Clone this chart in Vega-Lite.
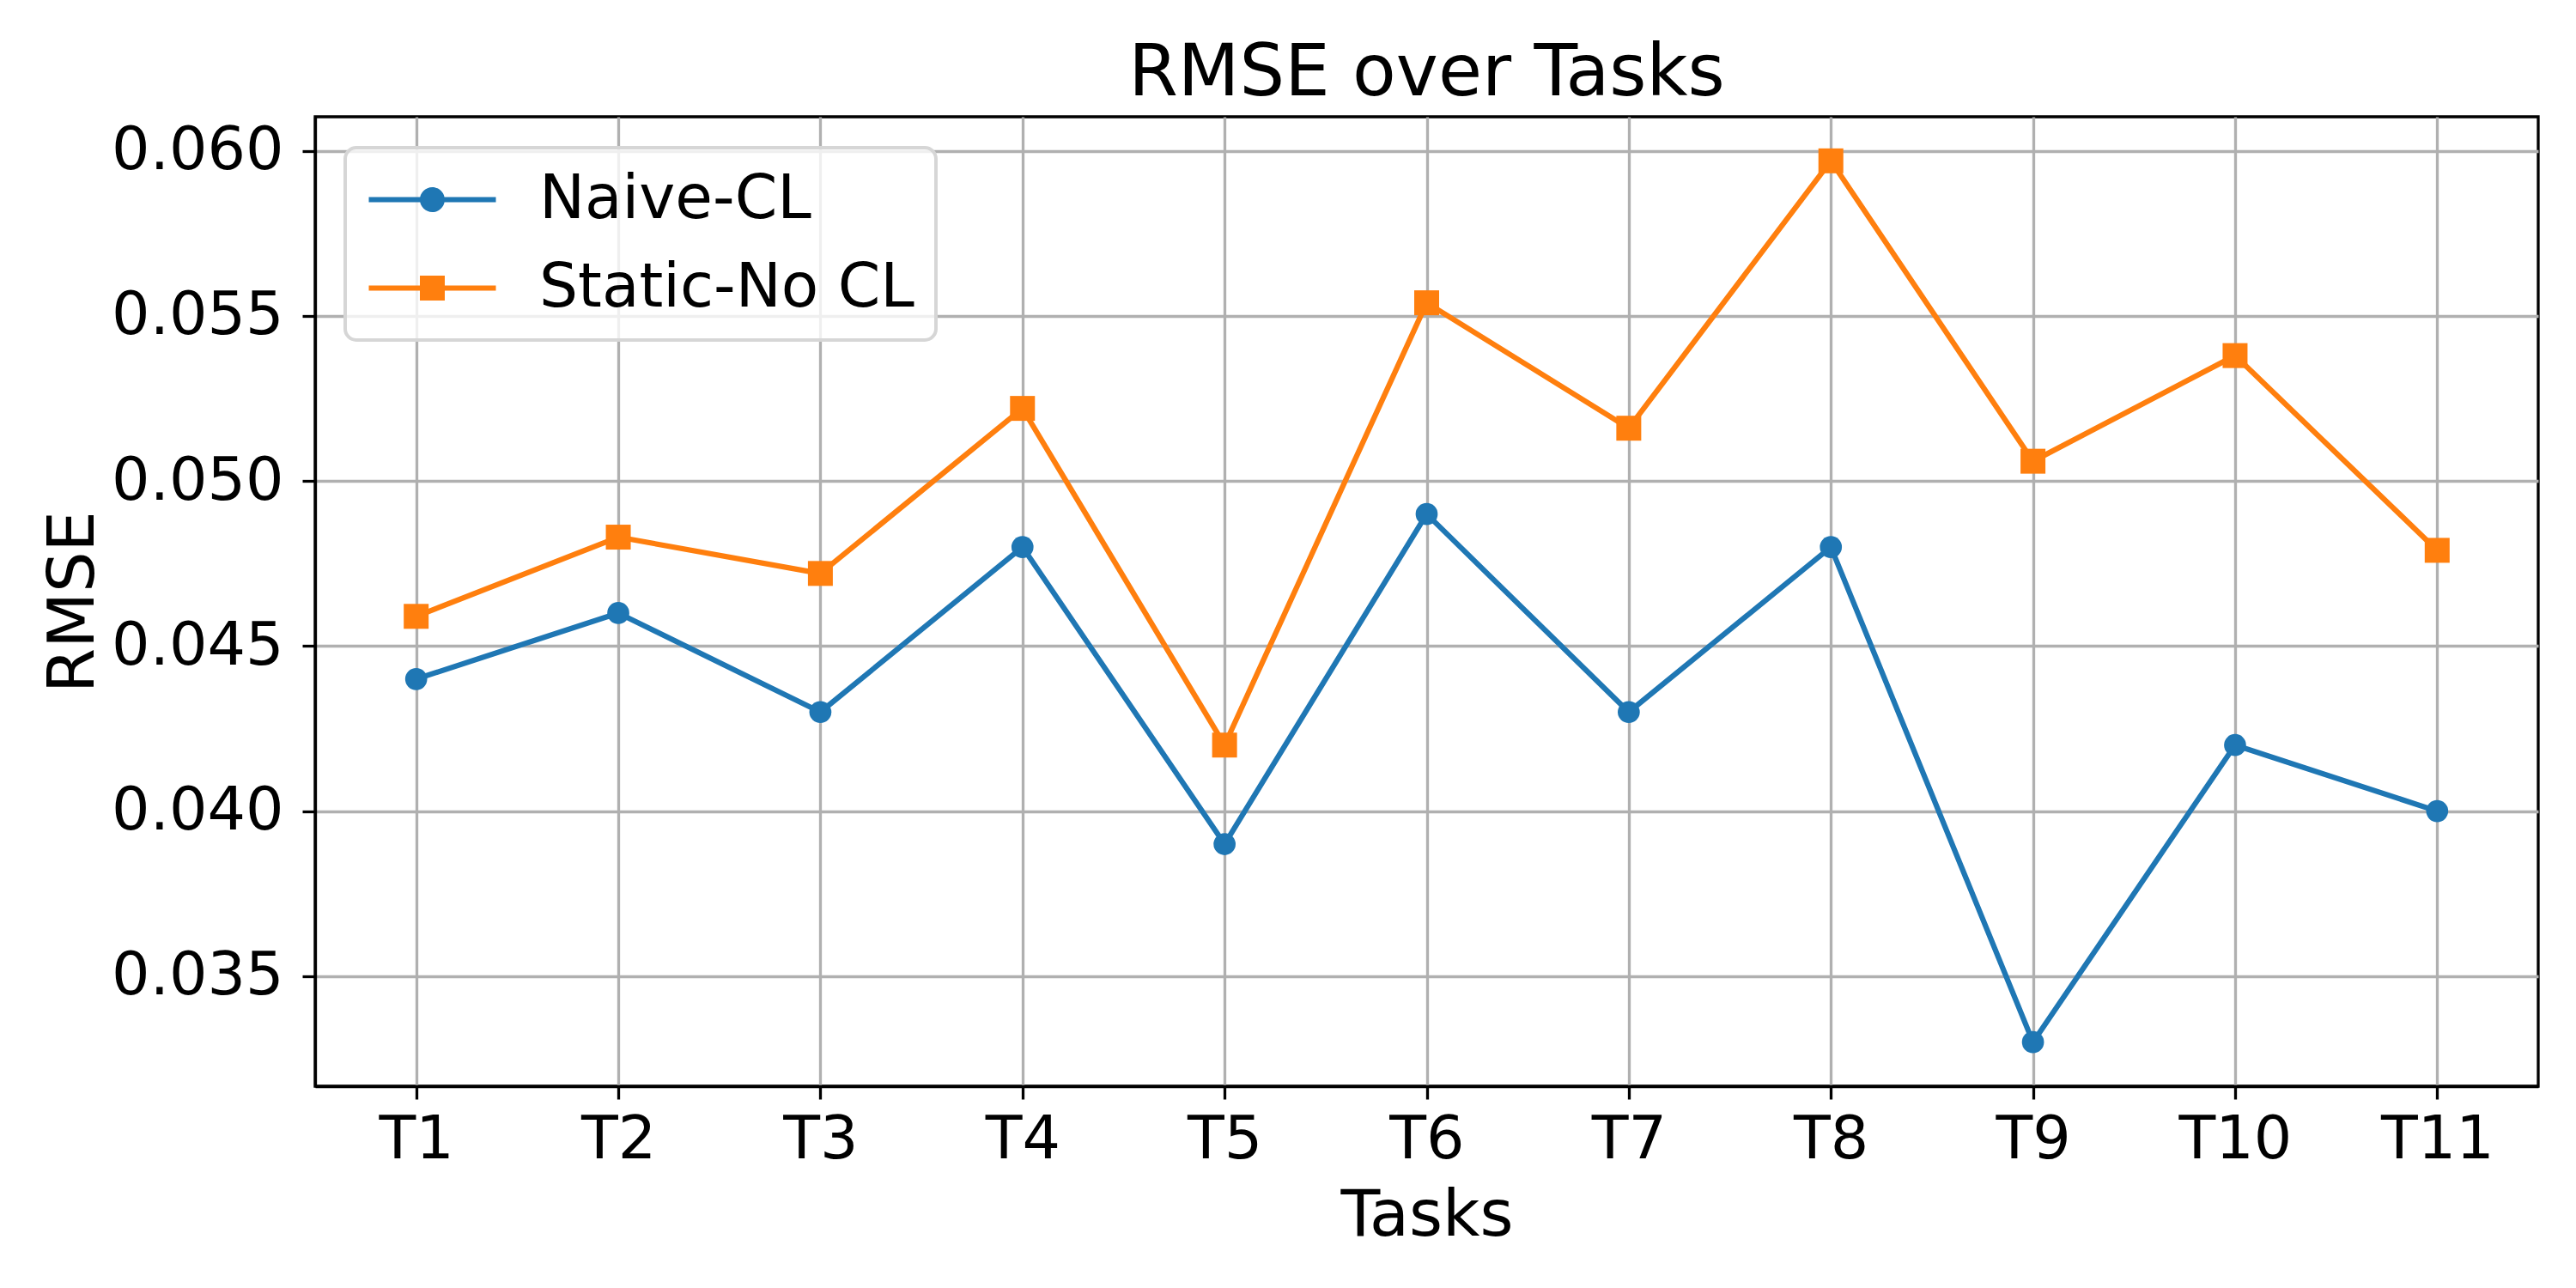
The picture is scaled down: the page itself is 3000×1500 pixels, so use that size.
{
  "$schema": "https://vega.github.io/schema/vega-lite/v6.json",
  "autosize": {"type": "none"},
  "width": 2589,
  "height": 1129,
  "padding": {"left": 367, "top": 136, "right": 44, "bottom": 235},
  "background": "white",
  "config": {
    "font": "DejaVu Sans",
    "view": {"stroke": "black", "strokeWidth": 3.3},
    "axis": {
      "labelFont": "DejaVu Sans",
      "titleFont": "DejaVu Sans",
      "labelColor": "black",
      "titleColor": "black",
      "labelFontSize": 70,
      "labelLimit": 0,
      "titleFontSize": 75,
      "titleFontWeight": "normal",
      "titleLimit": 0,
      "tickSize": 15,
      "tickWidth": 3.3,
      "tickColor": "black",
      "domainColor": "black",
      "domainWidth": 3.3,
      "grid": true,
      "gridColor": "#b0b0b0",
      "gridWidth": 3.3
    }
  },
  "title": {
    "text": "RMSE over Tasks",
    "fontSize": 83,
    "fontWeight": "normal",
    "font": "DejaVu Sans",
    "color": "black",
    "anchor": "middle",
    "baseline": "top",
    "offset": 8
  },
  "data": {
    "values": [
      {"task": "T1", "series": "Naive-CL", "rmse": 0.044},
      {"task": "T2", "series": "Naive-CL", "rmse": 0.046},
      {"task": "T3", "series": "Naive-CL", "rmse": 0.043},
      {"task": "T4", "series": "Naive-CL", "rmse": 0.048},
      {"task": "T5", "series": "Naive-CL", "rmse": 0.039},
      {"task": "T6", "series": "Naive-CL", "rmse": 0.049},
      {"task": "T7", "series": "Naive-CL", "rmse": 0.043},
      {"task": "T8", "series": "Naive-CL", "rmse": 0.048},
      {"task": "T9", "series": "Naive-CL", "rmse": 0.033},
      {"task": "T10", "series": "Naive-CL", "rmse": 0.042},
      {"task": "T11", "series": "Naive-CL", "rmse": 0.040},
      {"task": "T1", "series": "Static-No CL", "rmse": 0.0459},
      {"task": "T2", "series": "Static-No CL", "rmse": 0.0483},
      {"task": "T3", "series": "Static-No CL", "rmse": 0.0472},
      {"task": "T4", "series": "Static-No CL", "rmse": 0.0522},
      {"task": "T5", "series": "Static-No CL", "rmse": 0.0420},
      {"task": "T6", "series": "Static-No CL", "rmse": 0.0554},
      {"task": "T7", "series": "Static-No CL", "rmse": 0.0516},
      {"task": "T8", "series": "Static-No CL", "rmse": 0.0597},
      {"task": "T9", "series": "Static-No CL", "rmse": 0.0506},
      {"task": "T10", "series": "Static-No CL", "rmse": 0.0538},
      {"task": "T11", "series": "Static-No CL", "rmse": 0.0479}
    ]
  },
  "encoding": {
    "x": {
      "field": "task",
      "type": "ordinal",
      "scale": {"type": "point", "padding": 0.5, "domain": ["T1","T2","T3","T4","T5","T6","T7","T8","T9","T10","T11"]},
      "axis": {
        "title": "Tasks",
        "labelAngle": 0,
        "labelBaseline": "alphabetic",
        "labelPadding": 68,
        "titleBaseline": "alphabetic",
        "titleY": 173,
        "titleX": 1294.5,
        "titleAnchor": null
      }
    },
    "y": {
      "field": "rmse",
      "type": "quantitative",
      "scale": {"domain": [0.031665, 0.061035], "nice": false, "zero": false},
      "axis": {
        "title": "RMSE",
        "values": [0.035, 0.04, 0.045, 0.05, 0.055, 0.06],
        "format": ".3f",
        "labelPadding": 22,
        "labelBaseline": "middle",
        "titleBaseline": "alphabetic",
        "titleAngle": -90,
        "titleX": -259,
        "titleY": 564.5,
        "titleAlign": "center"
      }
    },
    "color": {
      "field": "series",
      "type": "nominal",
      "scale": {"domain": ["Naive-CL", "Static-No CL"], "range": ["#1f77b4", "#ff7f0e"]},
      "legend": {
        "title": null,
        "orient": "none",
        "legendX": 35,
        "legendY": 36,
        "padding": 25,
        "symbolSize": 4356,
        "symbolStrokeWidth": 0,
        "labelFontSize": 71,
        "labelFont": "DejaVu Sans",
        "labelColor": "black",
        "labelLimit": 0,
        "labelOffset": 130,
        "rowPadding": 31,
        "encode": {
          "legend": {
            "update": {
              "fill": {"value": "rgba(255,255,255,0.8)"},
              "stroke": {"value": "#d6d6d6"},
              "strokeWidth": {"value": 4},
              "cornerRadius": {"value": 13}
            }
          },
          "symbols": {
            "update": {
              "fill": {"signal": "datum.value === 'Naive-CL' ? '#1f77b4' : '#ff7f0e'"},
              "stroke": {"value": "transparent"},
              "strokeWidth": {"value": 0},
              "size": {"value": 4356},
              "opacity": {"value": 1},
              "fillOpacity": {"value": 1}
            }
          }
        }
      }
    }
  },
  "layer": [
    {
      "mark": {"type": "line", "strokeWidth": 6.25, "strokeJoin": "round"}
    },
    {
      "transform": [{"filter": "datum.series === 'Naive-CL'"}],
      "mark": {"type": "point", "shape": "circle", "size": 660, "filled": true, "opacity": 1, "strokeWidth": 0}
    },
    {
      "transform": [{"filter": "datum.series === 'Static-No CL'"}],
      "mark": {"type": "point", "shape": "square", "size": 841, "filled": true, "opacity": 1, "strokeWidth": 0}
    },
    {
      "transform": [{"filter": "datum.rmse < 0"}],
      "mark": {"type": "point", "filled": true, "opacity": 1, "strokeWidth": 0},
      "encoding": {
        "shape": {
          "field": "series",
          "type": "nominal",
          "scale": {
            "domain": ["Naive-CL", "Static-No CL"],
            "range": [
              "M-1,-0.091H3.485V0.091H-1Z M1.681,0A0.439,0.439 0 1,1 0.803,0A0.439,0.439 0 1,1 1.681,0Z",
              "M-1,-0.091H3.485V0.091H-1Z M0.803,-0.439H1.681V0.439H0.803Z"
            ]
          },
          "legend": {"title": null}
        }
      }
    }
  ]
}
